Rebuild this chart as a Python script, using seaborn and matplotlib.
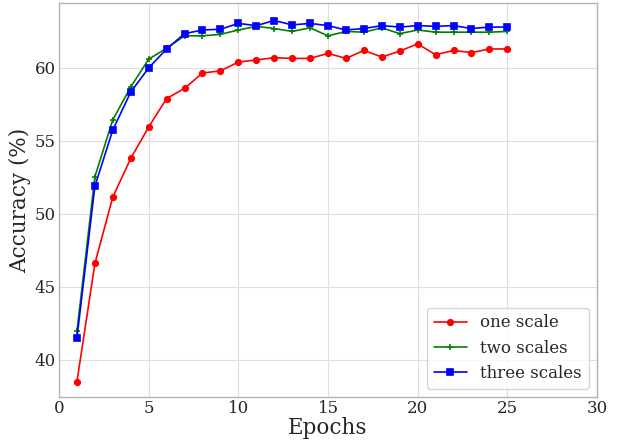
import numpy as np
import pandas as pd
import matplotlib
matplotlib.use("Agg")
import matplotlib.pyplot as plt
import seaborn as sns

# accuracy per epoch
epochs = list(range(1, 26))
one_scale = [38.5, 46.6, 51.15, 53.8, 55.95, 57.9, 58.6, 59.65, 59.8, 60.4,
             60.55, 60.7, 60.65, 60.65, 61.0, 60.65, 61.2, 60.75, 61.15, 61.65,
             60.9, 61.2, 61.05, 61.3, 61.3]
two_scales = [41.95, 52.55, 56.45, 58.7, 60.6, 61.35, 62.2, 62.2, 62.3, 62.6,
              62.85, 62.7, 62.5, 62.75, 62.2, 62.5, 62.45, 62.75, 62.35, 62.6,
              62.45, 62.45, 62.45, 62.45, 62.5]
three_scales = [41.5, 51.9, 55.75, 58.35, 60.0, 61.3, 62.35, 62.6, 62.65, 63.05,
                62.9, 63.25, 62.95, 63.05, 62.9, 62.6, 62.7, 62.9, 62.8, 62.9,
                62.85, 62.9, 62.7, 62.8, 62.8]

series = [
    ("one scale", one_scale, "red", "o"),
    ("two scales", two_scales, "green", "+"),
    ("three scales", three_scales, "blue", "s"),
]

sns.set_style("whitegrid", {"grid.color": "0.87", "axes.edgecolor": "0.7"})
plt.rcParams["font.family"] = ["DejaVu Serif"]

fig = plt.figure(figsize=(6.18, 4.40), dpi=100)
ax = fig.add_axes([0.0955, 0.0977, 0.8705, 0.8955])

for label, vals, color, marker in series:
    df = pd.DataFrame({"epoch": epochs, "acc": vals})
    sns.lineplot(data=df, x="epoch", y="acc", ax=ax, color=color,
                 marker=marker, markersize=4, markeredgewidth=1.2,
                 markeredgecolor=color, linewidth=1.2, label=label)

ax.set_xlim(0, 30)
ax.set_ylim(37.45, 64.45)
ax.set_xticks([0, 5, 10, 15, 20, 25, 30])
ax.set_yticks([40, 45, 50, 55, 60])
ax.tick_params(labelsize=12, pad=2.5, length=0)
ax.set_xlabel("Epochs", fontsize=15.5, labelpad=0)
ax.set_ylabel("Accuracy (%)", fontsize=15.5, labelpad=2)
for s in ax.spines.values():
    s.set_linewidth(1.0)

ax.legend(loc="lower right", fontsize=12, framealpha=0.8)

fig.savefig("out.png", dpi=100)
